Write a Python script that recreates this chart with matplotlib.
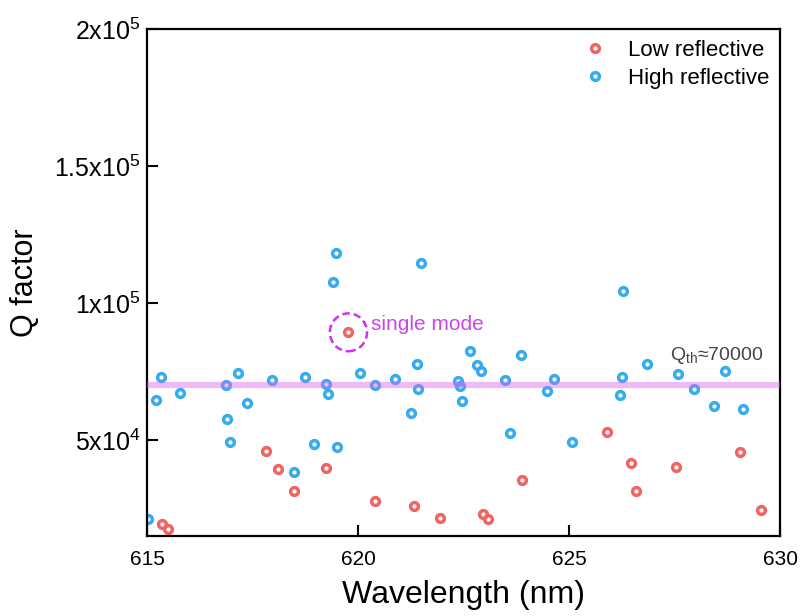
import numpy as np
import matplotlib.pyplot as plt
from matplotlib.patches import Ellipse

plt.rcParams['font.family'] = ['Liberation Sans', 'DejaVu Sans']
plt.rcParams['mathtext.fontset'] = 'custom'
plt.rcParams['mathtext.rm'] = 'Liberation Sans'
plt.rcParams['mathtext.it'] = 'Liberation Sans'

# low reflective mirrors
low_wl = [619.77, 617.82, 618.11, 618.48, 619.24, 615.36, 615.50, 620.41,
          621.33, 621.93, 622.95, 623.09, 623.88, 622.06,
          625.89, 626.46, 626.59, 627.54, 629.06, 629.54]
low_q = [89300, 46000, 39500, 31400, 39800, 19300, 17500, 27600,
         26000, 21400, 22900, 21200, 35300, 13100,
         52900, 41500, 31500, 40000, 45500, 24300]

# high reflective mirrors
high_wl = [619.48, 619.41, 615.32, 615.21, 615.77, 616.86, 617.15, 617.36,
           616.90, 616.96, 617.97, 618.74, 619.24, 619.29, 618.96, 619.51,
           618.48, 620.05, 620.39, 615.02,
           621.49, 620.87, 621.39, 621.41, 621.25, 622.65, 622.81, 622.92,
           622.37, 622.41, 622.46, 623.48, 623.86, 623.59, 624.64, 624.48,
           625.08,
           626.29, 626.84, 626.26, 626.21, 627.58, 627.95, 628.70, 628.44,
           629.12]
high_q = [118100, 107700, 72900, 64600, 67000, 70100, 74300, 63600,
          57800, 49200, 71800, 73000, 70300, 66800, 48500, 47300,
          38200, 74300, 69900, 21000,
          114500, 72100, 77600, 68600, 59700, 82500, 77300, 75300,
          71500, 69700, 64200, 71900, 80900, 52700, 72400, 67800,
          49300,
          104500, 77700, 72900, 66400, 74100, 68500, 75100, 62400,
          61400]

q_th = 70000
single_wl, single_q = 619.77, 89300

fig = plt.figure(figsize=(8, 6.16), dpi=100)
ax = fig.add_axes([0.184, 0.130, 0.791, 0.823])

ax.plot(low_wl, low_q, 'o', ls='none', mfc='none', mec='#f06464', mew=2.5,
        ms=5.6, label='Low reflective')
ax.plot(high_wl, high_q, 'o', ls='none', mfc='none', mec='#36acf0', mew=2.5,
        ms=5.6, label='High reflective')
ax.axhline(q_th, color='#dd66ee', alpha=0.45, lw=4.5, zorder=3)

ax.add_patch(Ellipse((single_wl, single_q), 0.88, 13800, fill=False,
                     ls=(0, (3, 1.6)), lw=1.8, ec='#cc33ee', zorder=4))
ax.text(620.3, 92300, 'single mode', color='#cc44ee', fontsize=15,
        va='center', ha='left')
ax.text(630 - 0.4, 79200, r'Q$_{\mathrm{th}}$≈70000', color='#444444',
        fontsize=14, ha='right', va='baseline')

ax.set_xlim(615, 630)
ax.set_ylim(15000, 200000)
ax.set_xticks([615, 620, 625, 630])
ax.set_yticks([50000, 100000, 150000, 200000])
ax.set_yticklabels(['5x10$^4$', '1x10$^5$', '1.5x10$^5$', '2x10$^5$'])
ax.tick_params(direction='in', length=8, width=1.5)
ax.tick_params(axis='x', labelsize=15, pad=10)
ax.tick_params(axis='y', labelsize=18, pad=5)
for s in ax.spines.values():
    s.set_linewidth(1.6)

ax.set_xlabel('Wavelength (nm)', fontsize=23, labelpad=8)
ax.set_ylabel('Q factor', fontsize=22, labelpad=10)

ax.legend(loc='upper right', frameon=False, fontsize=16, handletextpad=0.7,
          borderaxespad=0.1, labelspacing=0.3, handlelength=1.5)

fig.savefig('out.png', dpi=100)
